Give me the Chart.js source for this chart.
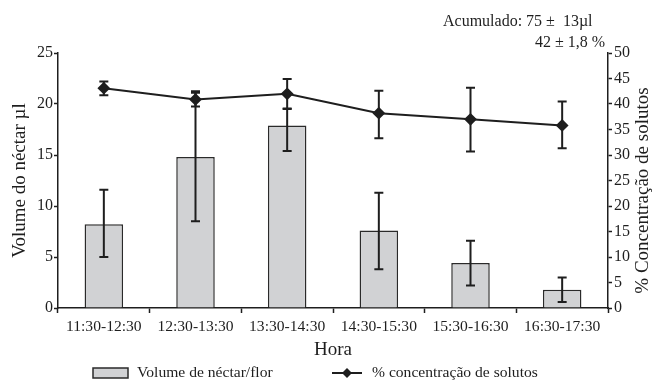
<!DOCTYPE html>
<html>
<head>
<meta charset="utf-8">
<script src="https://cdn.jsdelivr.net/npm/chart.js@4.4.0/dist/chart.umd.min.js"></script>
<style>
    html, body { margin: 0; padding: 0; background: #fff; }
    #wrap { width: 661px; height: 380px; }
</style>
</head>
<body>
<div id="wrap"><canvas id="chartCanvas" width="661" height="380"></canvas></div>
<script>
// dados
const horas = ['11:30-12:30', '12:30-13:30', '13:30-14:30', '14:30-15:30', '15:30-16:30', '16:30-17:30'];
const volume = [8.2, 14.8, 17.9, 7.6, 4.4, 1.8];
const volumeErrHi = [11.6, 21.1, 19.5, 11.3, 6.6, 3.0];
const volumeErrLo = [5.0, 8.5, 15.4, 3.8, 2.2, 0.6];
const concentracao = [43.1, 40.9, 42.0, 38.2, 37.0, 35.8];
const concErrHi = [44.4, 42.5, 44.9, 42.6, 43.2, 40.5];
const concErrLo = [41.7, 39.5, 39.1, 33.3, 30.7, 31.3];
const volumeAxis = { min: 0, max: 25, step: 5 };
const concAxis = { min: 0, max: 50, step: 5 };
const acumulado = ['Acumulado: 75 \u00b1  13\u00b5l', '42 \u00b1 1,8 %'];

const serif = '"Liberation Serif", "Times New Roman", serif';
const ink = '#1e1e1e';
const barFill = '#d1d2d4';

const errorBars = {
    id: 'errorBars',
    afterDatasetsDraw(chart) {
        const ctx = chart.ctx;
        const sets = [
            { meta: chart.getDatasetMeta(0), scale: chart.scales.y, hi: volumeErrHi, lo: volumeErrLo },
            { meta: chart.getDatasetMeta(1), scale: chart.scales.y1, hi: concErrHi, lo: concErrLo }
        ];
        ctx.save();
        ctx.strokeStyle = ink;
        ctx.lineWidth = 2;
        sets.forEach(s => {
            s.meta.data.forEach((el, i) => {
                const x = el.x;
                const yHi = s.scale.getPixelForValue(s.hi[i]);
                const yLo = s.scale.getPixelForValue(s.lo[i]);
                ctx.beginPath();
                ctx.moveTo(x, yHi); ctx.lineTo(x, yLo);
                ctx.moveTo(x - 4.5, yHi); ctx.lineTo(x + 4.5, yHi);
                ctx.moveTo(x - 4.5, yLo); ctx.lineTo(x + 4.5, yLo);
                ctx.stroke();
            });
        });
        ctx.restore();
    }
};

const extras = {
    id: 'extras',
    afterDraw(chart) {
        const ctx = chart.ctx;
        const area = chart.chartArea;
        ctx.save();
        ctx.fillStyle = ink;

        // texto acumulado
        ctx.font = '16px ' + serif;
        ctx.textBaseline = 'middle';
        ctx.textAlign = 'left';
        ctx.fillText(acumulado[0], 443, 22);
        ctx.fillText(acumulado[1], 535, 43);

        // título do eixo direito (lido de baixo para cima)
        ctx.save();
        ctx.font = '19px ' + serif;
        ctx.textAlign = 'center';
        ctx.translate(643, (area.top + area.bottom) / 2 + 10);
        ctx.rotate(-Math.PI / 2);
        ctx.fillText('% Concentração de solutos', 0, 0);
        ctx.restore();

        // legenda
        const ds = chart.data.datasets;
        const ly = 373;
        ctx.font = '15.6px ' + serif;
        ctx.fillStyle = ds[0].backgroundColor;
        ctx.fillRect(93, ly - 5, 35, 10);
        ctx.strokeStyle = ds[0].borderColor;
        ctx.lineWidth = 1.5;
        ctx.strokeRect(93, ly - 5, 35, 10);
        ctx.fillStyle = ink;
        ctx.fillText(ds[0].label, 137, ly);

        ctx.strokeStyle = ds[1].borderColor;
        ctx.lineWidth = 2;
        ctx.beginPath();
        ctx.moveTo(332, ly); ctx.lineTo(362, ly);
        ctx.stroke();
        ctx.beginPath();
        ctx.moveTo(347, ly - 5); ctx.lineTo(352, ly); ctx.lineTo(347, ly + 5); ctx.lineTo(342, ly);
        ctx.closePath();
        ctx.fillStyle = ds[1].borderColor;
        ctx.fill();
        ctx.fillStyle = ink;
        ctx.fillText(ds[1].label, 372, ly);
        ctx.restore();
    }
};

const ctx = document.getElementById('chartCanvas').getContext('2d');
new Chart(ctx, {
    type: 'bar',
    data: {
        labels: horas,
        datasets: [{
            type: 'bar',
            label: 'Volume de néctar/flor',
            data: volume,
            yAxisID: 'y',
            backgroundColor: barFill,
            borderColor: '#2a2a2a',
            borderWidth: 1.5,
            barPercentage: 0.42,
            categoryPercentage: 1,
            order: 2
        }, {
            type: 'line',
            label: '% concentração de solutos',
            data: concentracao,
            yAxisID: 'y1',
            borderColor: ink,
            backgroundColor: ink,
            borderWidth: 2,
            pointStyle: 'rectRot',
            pointRadius: 5,
            pointBackgroundColor: ink,
            pointBorderColor: ink,
            tension: 0,
            order: 1
        }]
    },
    options: {
        responsive: false,
        animation: false,
        devicePixelRatio: 1,
        layout: { padding: { top: 53, bottom: 19, left: 0, right: 0 } },
        plugins: {
            legend: { display: false },
            tooltip: { enabled: false }
        },
        scales: {
            x: {
                offset: true,
                grid: { offset: true, drawOnChartArea: false, tickLength: 5, tickColor: ink, tickWidth: 1.5 },
                border: { color: ink, width: 1.5 },
                ticks: { color: ink, font: { family: serif, size: 15.6 }, padding: 5, maxRotation: 0 },
                title: { display: true, text: 'Hora', color: ink, font: { family: serif, size: 19 }, padding: { top: 4, bottom: 0 } },
                afterFit: axis => { axis.height = 53; }
            },
            y: {
                position: 'left',
                min: volumeAxis.min,
                max: volumeAxis.max,
                ticks: { stepSize: volumeAxis.step, color: ink, font: { family: serif, size: 16 }, padding: 1 },
                grid: { drawOnChartArea: false, tickLength: 4, tickColor: ink, tickWidth: 1.5 },
                border: { color: ink, width: 1.5 },
                title: { display: true, text: 'Volume do néctar µl', color: ink, font: { family: serif, size: 19 }, padding: { top: 9, bottom: 4 } },
                afterFit: axis => { axis.width = 58; }
            },
            y1: {
                position: 'right',
                min: concAxis.min,
                max: concAxis.max,
                ticks: { stepSize: concAxis.step, color: ink, font: { family: serif, size: 16 }, padding: 2 },
                grid: { drawOnChartArea: false, tickLength: 4, tickColor: ink, tickWidth: 1.5 },
                border: { color: ink, width: 1.5 },
                afterFit: axis => { axis.width = 53; }
            }
        }
    },
    plugins: [errorBars, extras]
});
</script>
</body>
</html>
